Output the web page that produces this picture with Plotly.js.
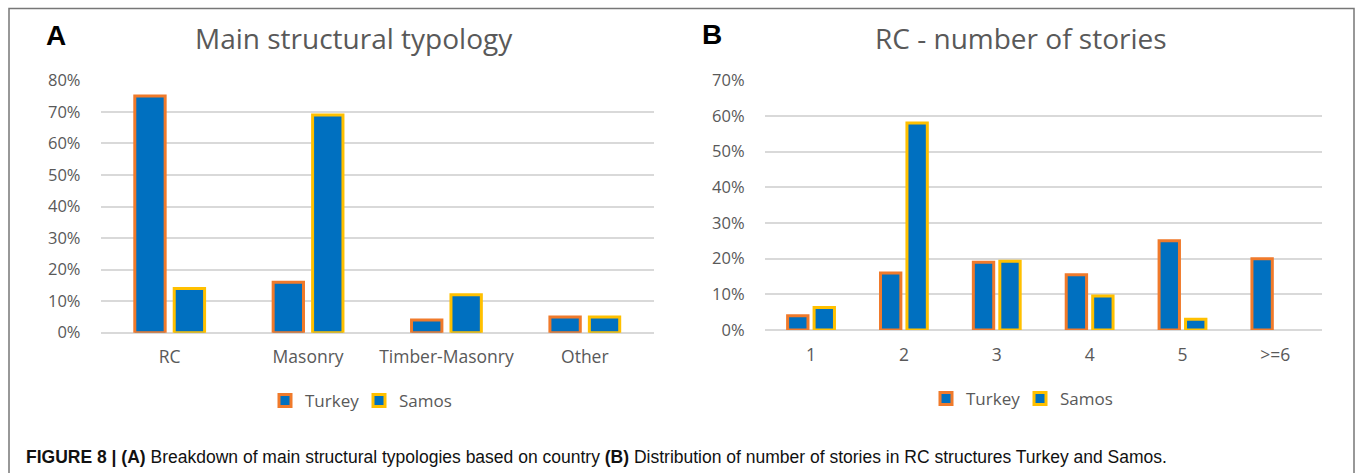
<!DOCTYPE html>
<html>
<head>
<meta charset="utf-8">
<script src="https://cdn.plot.ly/plotly-3.0.1.min.js"></script>
<style>
html,body{margin:0;padding:0;background:#fff;}
#chart{width:1355px;height:473px;}
</style>
</head>
<body>
<div id="chart"></div>
<script>
// Panel A data
const typologyCategories = ["RC", "Masonry", "Timber-Masonry", "Other"];
const typologyTurkey = [0.75, 0.16, 0.04, 0.05];
const typologySamos = [0.14, 0.69, 0.12, 0.05];

// Panel B data
const storyCategories = ["1", "2", "3", "4", "5", ">=6"];
const storiesTurkey = [0.04, 0.16, 0.19, 0.155, 0.25, 0.20];
const storiesSamos = [0.063, 0.58, 0.193, 0.095, 0.03, null];

const seriesNames = ["Turkey", "Samos"];
const titleA = "Main structural typology";
const titleB = "RC - number of stories";
const captionText = "<b>FIGURE 8 | (A)</b> Breakdown of main structural typologies based on country <b>(B)</b> Distribution of number of stories in RC structures Turkey and Samos.";

const W = 1355, H = 473;
const px = v => v / W;
const py = v => 1 - v / H;

const BLUE = "#0070C0", ORANGE = "#F07A2B", GOLD = "#FFC000";
const GRAY = "#595959", GRID = "#D9D9D9";
const FONT = "'Open Sans', Lato, sans-serif";

function bar(x, y, name, line, xa, ya, leg, show) {
  return {
    type: "bar", x: x, y: y, name: name,
    xaxis: xa, yaxis: ya, legend: leg, showlegend: show,
    marker: {color: BLUE, line: {color: line, width: 3}},
    hoverinfo: "x+y+name"
  };
}

const data = [
  bar(typologyCategories, typologyTurkey, seriesNames[0], ORANGE, "x", "y", "legend", true),
  bar(typologyCategories, typologySamos, seriesNames[1], GOLD, "x", "y", "legend", true),
  bar(storyCategories, storiesTurkey, seriesNames[0], ORANGE, "x2", "y2", "legend2", true),
  bar(storyCategories, storiesSamos, seriesNames[1], GOLD, "x2", "y2", "legend2", true)
];

const xCommon = {
  type: "category", showgrid: false, zeroline: false, showline: false, ticks: "",
  tickfont: {family: FONT, size: 17.5, color: GRAY}, ticklabelstandoff: 12, fixedrange: true
};
const yCommon = {
  tickformat: ".0%", showgrid: true, gridcolor: GRID, gridwidth: 1.5,
  zeroline: true, zerolinecolor: GRID, zerolinewidth: 1.5, showline: false, ticks: "",
  tickfont: {family: FONT, size: 16.5, color: GRAY}, ticklabelstandoff: 19, fixedrange: true
};

const legendCommon = {
  orientation: "h", xanchor: "left", yanchor: "middle",
  font: {family: FONT, size: 17, color: GRAY}, bgcolor: "rgba(0,0,0,0)", itemwidth: 30,
  traceorder: "normal", entrywidthmode: "pixels", entrywidth: 49
};

const layout = {
  width: W, height: H,
  margin: {l: 0, r: 0, t: 0, b: 0},
  paper_bgcolor: "#fff", plot_bgcolor: "rgba(0,0,0,0)",
  barmode: "group", bargap: 0.43, bargroupgap: 0.23,
  font: {family: FONT, color: GRAY},
  xaxis: Object.assign({}, xCommon, {domain: [px(100.5), px(654)], anchor: "y"}),
  yaxis: Object.assign({}, yCommon, {domain: [py(332.7), py(80.3)], range: [0, 0.8], dtick: 0.1, anchor: "x"}),
  xaxis2: Object.assign({}, xCommon, {domain: [px(764.6), px(1321.8)], anchor: "y2"}),
  yaxis2: Object.assign({}, yCommon, {domain: [py(330), py(80.3)], range: [0, 0.7], dtick: 0.1, anchor: "x2"}),
  legend: Object.assign({}, legendCommon, {x: px(265), y: py(401)}),
  legend2: Object.assign({}, legendCommon, {x: px(926), y: py(399)}),
  shapes: [
    {type: "rect", xref: "paper", yref: "paper", x0: px(9), x1: px(1354), y0: -0.2, y1: py(8.5),
     line: {color: "#777", width: 1.5}, fillcolor: "rgba(0,0,0,0)", layer: "below"}
  ],
  annotations: [
    {text: titleA, xref: "paper", yref: "paper", x: px(354), y: py(38), xanchor: "center", yanchor: "middle",
     showarrow: false, font: {family: FONT, size: 28, color: GRAY}},
    {text: titleB, xref: "paper", yref: "paper", x: px(1021), y: py(38), xanchor: "center", yanchor: "middle",
     showarrow: false, font: {family: FONT, size: 28, color: GRAY}},
    {text: "<b>A</b>", xref: "paper", yref: "paper", x: px(56), y: py(36), xanchor: "center", yanchor: "middle",
     showarrow: false, font: {family: "Liberation Sans, Arial, sans-serif", size: 28, color: "#000"}},
    {text: "<b>B</b>", xref: "paper", yref: "paper", x: px(712), y: py(35), xanchor: "center", yanchor: "middle",
     showarrow: false, font: {family: "Liberation Sans, Arial, sans-serif", size: 28, color: "#000"}},
    {text: captionText, xref: "paper", yref: "paper", x: px(24), y: py(457), xanchor: "left", yanchor: "middle",
     showarrow: false, font: {family: "Liberation Sans, Arial, sans-serif", size: 17.5, color: "#111"}}
  ]
};

Plotly.newPlot("chart", data, layout, {displayModeBar: false});
</script>
</body>
</html>
